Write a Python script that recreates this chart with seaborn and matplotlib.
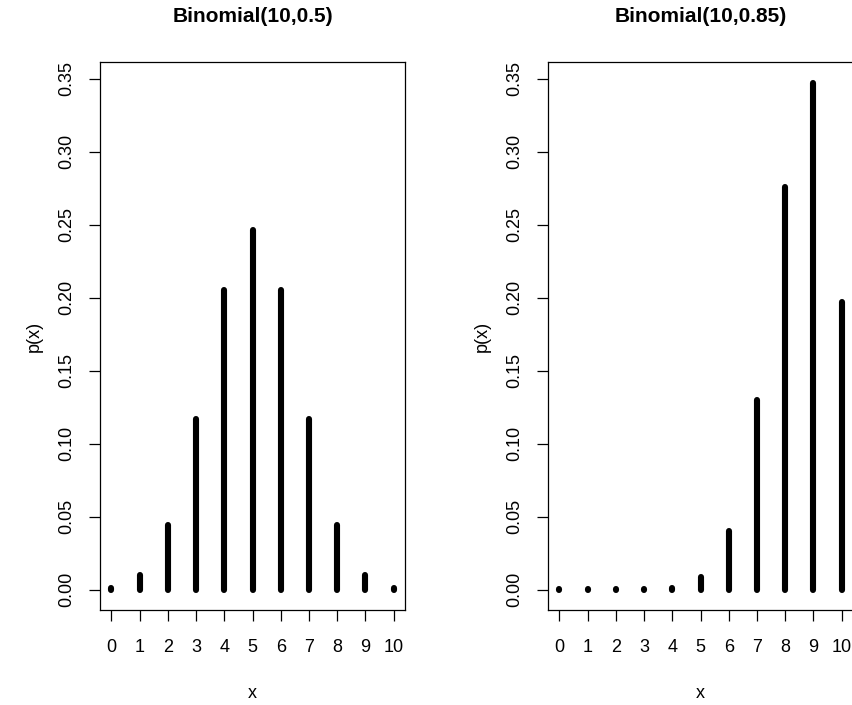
import matplotlib
matplotlib.use("Agg")
import matplotlib.pyplot as plt
import seaborn as sns

# ── data: binomial probabilities ──────────────────────────────────────────────
x_vals = list(range(11))
p_half = [0.001, 0.010, 0.044, 0.117, 0.205, 0.246, 0.205, 0.117, 0.044, 0.010, 0.001]
p_085 = [0.0003, 0.0003, 0.0003, 0.0004, 0.0013, 0.0085, 0.040, 0.130, 0.276, 0.347, 0.197]
titles = ["Binomial(10,0.5)", "Binomial(10,0.85)"]
y_ticks = [0.00, 0.05, 0.10, 0.15, 0.20, 0.25, 0.30, 0.35]

sns.set_style("ticks")
plt.rcParams["font.family"] = ["Liberation Sans", "DejaVu Sans"]
plt.rcParams["text.color"] = "black"
plt.rcParams["axes.labelcolor"] = "black"

W, H = 852, 705
fig = plt.figure(figsize=(W / 100, H / 100), dpi=100)

# axes boxes in pixels: (left, top, width, height)
boxes = [(100, 62, 305, 548), (548, 62, 305, 548)]

for (left, top, w, h), probs, title in zip(boxes, [p_half, p_085], titles):
    ax = fig.add_axes([left / W, 1 - (top + h) / H, w / W, h / H])
    ax.vlines(x_vals, 0, probs, color="black", linewidth=4.4, capstyle="round")
    ax.set_xlim(-0.4, 10.4)
    ax.set_ylim(-0.0139, 0.3613)
    ax.set_xticks(x_vals)
    ax.set_xticklabels([str(v) for v in x_vals])
    ax.set_yticks(y_ticks)
    ax.set_yticklabels([f"{v:.2f}" for v in y_ticks])
    ax.tick_params(axis="both", direction="out", length=8, width=0.9,
                   color="black", labelsize=13, labelcolor="black")
    ax.tick_params(axis="x", pad=13)
    ax.tick_params(axis="y", pad=10, labelrotation=90)
    for lbl in ax.get_yticklabels():
        lbl.set_va("center")
    for sp in ax.spines.values():
        sp.set_visible(True)
        sp.set_color("black")
        sp.set_linewidth(0.9)
    ax.set_xlabel("x", fontsize=13)
    ax.set_ylabel("p(x)", fontsize=13)
    ax.xaxis.set_label_coords(0.5, -(693 - 610) / h)
    ax.xaxis.label.set_va("center")
    ax.yaxis.set_label_coords(-66 / w, 0.5)
    ax.yaxis.label.set_va("center")
    ax.set_title(title, fontsize=15, fontweight="bold", y=1 + (62 - 17) / h,
                 pad=0, va="center")

fig.savefig("out.png", dpi=100)
